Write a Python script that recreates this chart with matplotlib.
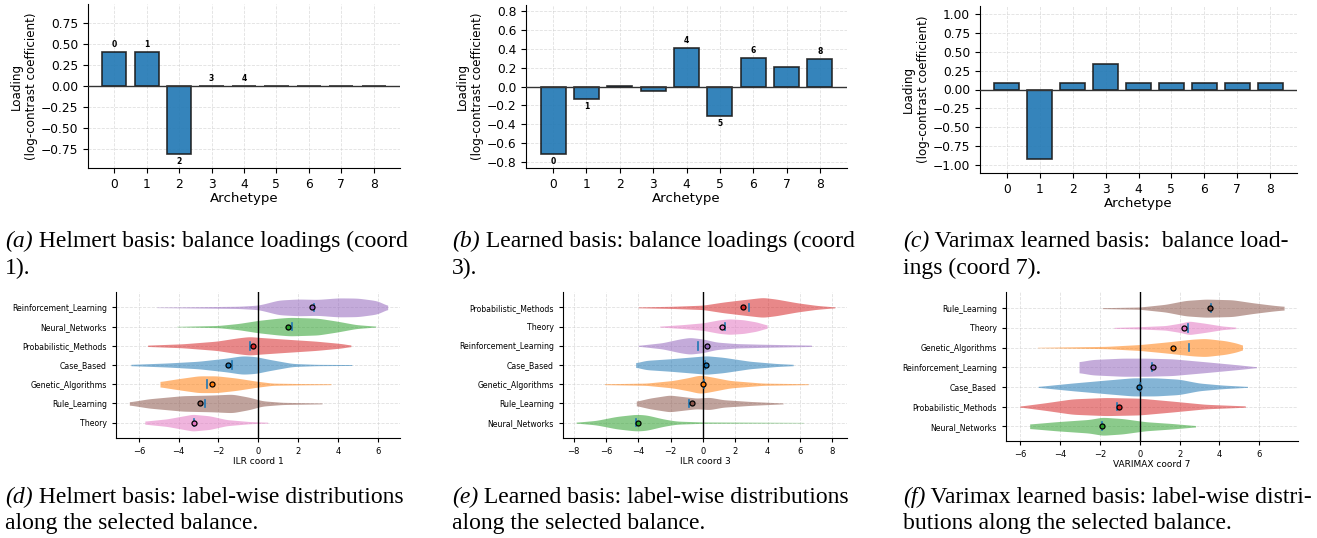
import numpy as np
import matplotlib
matplotlib.use("Agg")
import matplotlib.pyplot as plt
from matplotlib.ticker import MultipleLocator

W, H = 1317, 538

# ---- top row: balance loadings per archetype ----
archetypes = list(range(9))
load_helmert = [0.41, 0.41, -0.82, 0.004, 0.004, 0.0, 0.0, 0.0, 0.0]
load_learned = [-0.715, -0.13, 0.01, -0.045, 0.405, -0.315, 0.30, 0.21, 0.29]
load_varimax = [0.085, -0.92, 0.085, 0.335, 0.085, 0.085, 0.085, 0.085, 0.085]
labels_helmert = [0, 1, 2, 3, 4]
labels_learned = [0, 1, 4, 5, 6, 8]
labels_varimax = []

# ---- bottom row: label-wise violin profiles (x knots, half widths) ----
label_colors = {
    "Case_Based": "tab:blue", "Genetic_Algorithms": "tab:orange",
    "Neural_Networks": "tab:green", "Probabilistic_Methods": "tab:red",
    "Reinforcement_Learning": "tab:purple", "Rule_Learning": "tab:brown",
    "Theory": "tab:pink",
}

order_d = ["Reinforcement_Learning", "Neural_Networks", "Probabilistic_Methods",
           "Case_Based", "Genetic_Algorithms", "Rule_Learning", "Theory"]
prof_d = {
    "Reinforcement_Learning": ([-5.1, -3, -1, 0, 0.5, 1, 2, 3, 4, 5, 6, 6.5],
                               [0.01, 0.03, 0.05, 0.10, 0.21, 0.33, 0.38, 0.36, 0.43, 0.42, 0.30, 0.07]),
    "Neural_Networks": ([-4.1, -2, -1, 0, 1, 1.6, 3, 4, 4.9, 5.9],
                        [0.01, 0.05, 0.14, 0.28, 0.38, 0.42, 0.38, 0.24, 0.09, 0.02]),
    "Probabilistic_Methods": ([-5.56, -3.8, -2.1, -1.1, -0.45, 0.05, 1.2, 2.9, 4.2, 4.65],
                              [0.03, 0.09, 0.21, 0.35, 0.42, 0.38, 0.31, 0.21, 0.10, 0.03]),
    "Case_Based": ([-6.4, -4.6, -3, -1.6, -0.8, -0.1, 0.4, 1.7, 2.9, 4.7],
                   [0.03, 0.09, 0.17, 0.31, 0.42, 0.38, 0.28, 0.07, 0.03, 0.02]),
    "Genetic_Algorithms": ([-4.94, -4.1, -3, -2.1, -1.1, -0.1, 0.7, 2.1, 3.65],
                           [0.12, 0.24, 0.38, 0.38, 0.28, 0.14, 0.05, 0.03, 0.02]),
    "Rule_Learning": ([-6.48, -5.5, -3.8, -2.3, -1.3, -0.45, 0.2, 1.2, 3.2],
                      [0.07, 0.21, 0.35, 0.38, 0.42, 0.28, 0.12, 0.05, 0.02]),
    "Theory": ([-5.7, -4.6, -3.3, -2.46, -1.6, -0.45, 0.47],
               [0.07, 0.17, 0.38, 0.31, 0.14, 0.05, 0.02]),
}
mean_d = [2.68, 1.51, -0.27, -1.52, -2.33, -2.91, -3.25]
median_d = [2.78, 1.68, -0.42, -1.31, -2.56, -2.70, -3.22]

order_e = ["Probabilistic_Methods", "Theory", "Reinforcement_Learning",
           "Case_Based", "Genetic_Algorithms", "Rule_Learning", "Neural_Networks"]
prof_e = {
    "Probabilistic_Methods": ([-4.0, -1.85, 0, 1.24, 2.5, 3.7, 4.5, 5.8, 7, 8.15],
                              [0.02, 0.05, 0.10, 0.24, 0.35, 0.45, 0.38, 0.21, 0.09, 0.02]),
    "Theory": ([-2.68, -1.24, 0, 1.03, 1.65, 2.5, 3.3, 3.96],
               [0.02, 0.09, 0.17, 0.31, 0.35, 0.31, 0.21, 0.07]),
    "Reinforcement_Learning": ([-4.0, -2.5, -1.44, -0.82, 0, 0.82, 2.06, 3.7, 6.7],
                               [0.02, 0.14, 0.31, 0.38, 0.31, 0.17, 0.10, 0.07, 0.03]),
    "Case_Based": ([-4.16, -3.5, -2.06, -0.4, 0.2, 1.24, 2.9, 4.5, 5.57],
                   [0.10, 0.21, 0.28, 0.38, 0.42, 0.35, 0.17, 0.07, 0.03]),
    "Genetic_Algorithms": ([-6.08, -3.5, -1.85, -0.82, -0.2, 0.4, 1.65, 3.7, 6.5],
                           [0.02, 0.05, 0.17, 0.31, 0.42, 0.35, 0.17, 0.05, 0.02]),
    "Rule_Learning": ([-4.12, -3.3, -2.06, -1.24, -0.4, 0.4, 1.24, 2.9, 4.95],
                      [0.10, 0.24, 0.38, 0.31, 0.24, 0.28, 0.17, 0.09, 0.02]),
    "Neural_Networks": ([-7.84, -6.6, -5.36, -4.12, -3.5, -2.47, -1.65, 0, 6.2],
                        [0.02, 0.10, 0.28, 0.38, 0.35, 0.17, 0.07, 0.03, 0.01]),
}
mean_e = [2.45, 1.18, 0.27, 0.20, 0.02, -0.70, -4.02]
median_e = [2.85, 1.38, -0.33, 0.10, 0.06, -0.85, -4.16]

order_f = ["Rule_Learning", "Theory", "Genetic_Algorithms", "Reinforcement_Learning",
           "Case_Based", "Probabilistic_Methods", "Neural_Networks"]
prof_f = {
    "Rule_Learning": ([-1.88, 0, 1.3, 2.3, 3.3, 4.66, 5.66, 6.67, 7.25],
                      [0.02, 0.05, 0.17, 0.34, 0.40, 0.37, 0.24, 0.13, 0.08]),
    "Theory": ([-1.29, 0, 1.3, 2.0, 2.48, 3.3, 4.15, 4.82],
               [0.02, 0.05, 0.10, 0.20, 0.30, 0.20, 0.08, 0.03]),
    "Genetic_Algorithms": ([-5.14, -1.7, 0, 1.3, 2.65, 3.3, 4.32, 5.0, 5.16],
                           [0.01, 0.05, 0.13, 0.24, 0.37, 0.40, 0.30, 0.17, 0.08]),
    "Reinforcement_Learning": ([-3.05, -2.38, -0.87, 0.3, 1.64, 3.3, 5.0, 5.86],
                               [0.24, 0.34, 0.40, 0.40, 0.37, 0.24, 0.10, 0.02]),
    "Case_Based": ([-5.1, -3.38, -1.7, -0.37, 0.8, 1.98, 2.98, 4.15, 5.41],
                   [0.02, 0.17, 0.30, 0.40, 0.40, 0.34, 0.17, 0.08, 0.02]),
    "Probabilistic_Methods": ([-6.03, -4.72, -3.38, -1.7, 0, 1.64, 3.3, 5.3],
                              [0.02, 0.17, 0.34, 0.40, 0.37, 0.24, 0.10, 0.03]),
    "Neural_Networks": ([-5.53, -4.2, -2.55, -1.88, -0.87, 0.3, 1.64, 2.8],
                        [0.10, 0.20, 0.30, 0.40, 0.34, 0.20, 0.12, 0.03]),
}
mean_f = [3.52, 2.23, 1.67, 0.67, -0.03, -1.06, -1.88]
median_f = [3.60, 2.43, 2.48, 0.64, 0.03, -1.14, -1.88]

captions = [
    ("(a)", " Helmert basis: balance loadings (coord", "1)."),
    ("(b)", " Learned basis: balance loadings (coord", "3)."),
    ("(c)", " Varimax learned basis:  balance load-", "ings (coord 7)."),
    ("(d)", " Helmert basis: label-wise distributions", "along the selected balance."),
    ("(e)", " Learned basis: label-wise distributions", "along the selected balance."),
    ("(f)", " Varimax learned basis: label-wise distri-", "butions along the selected balance."),
]


def px_axes(l, t, r, b):
    return fig.add_axes([l / W, 1 - b / H, (r - l) / W, (b - t) / H])


def smooth_profile(xs, ws, n=400):
    # render-only smoothing of the knots
    gx = np.linspace(xs[0], xs[-1], n)
    gw = np.interp(gx, xs, ws)
    k = np.exp(-0.5 * (np.arange(-18, 19) / 6.0) ** 2)
    k /= k.sum()
    padded = np.concatenate([np.full(18, gw[0]), gw, np.full(18, gw[-1])])
    return gx, np.convolve(padded, k, mode="valid")


def bar_panel(ax, vals, lab_idx, step):
    ax.bar(archetypes, vals, width=0.75, color="tab:blue", alpha=0.9,
           edgecolor="#1a1a1a", linewidth=1.2, zorder=3)
    ax.axhline(0, color="#333333", lw=1.0, zorder=4)
    m = max(abs(v) for v in vals) * 1.2
    ax.set_ylim(-m, m)
    ax.yaxis.set_major_locator(MultipleLocator(step))
    ax.set_xticks(archetypes)
    for i in lab_idx:
        v = vals[i]
        ax.annotate(str(i), (i, v), xytext=(0, 2 if v >= 0 else -2),
                    textcoords="offset points", ha="center",
                    va="bottom" if v >= 0 else "top", fontsize=5.5, fontweight="bold")
    ax.grid(True, ls="--", lw=0.6, color="#cccccc", alpha=0.6, zorder=0)
    ax.set_axisbelow(True)
    for s in ["top", "right"]:
        ax.spines[s].set_visible(False)
    ax.tick_params(labelsize=8.8)
    ax.set_xlabel("Archetype", fontsize=9.6, labelpad=1)
    ax.set_ylabel("Loading\n(log-contrast coefficient)", fontsize=8.6, labelpad=2)


def violin_panel(ax, order, prof, means, medians, xlabel, xlim, ylim):
    for j, name in enumerate(order):
        c = label_colors[name]
        gx, gw = smooth_profile(*prof[name])
        gw = gw * 1.15
        ax.fill_between(gx, j - gw, j + gw, color=c, alpha=0.55, lw=0, zorder=2)
        ax.plot([medians[j], medians[j]], [j - 0.2, j + 0.2], color="tab:blue", lw=1.2, zorder=4)
        ax.plot(means[j], j, "o", ms=3.6, mfc=c, mec="black", mew=0.9, zorder=5)
    ax.axvline(0, color="black", lw=1.0, zorder=3)
    ax.set_yticks(range(len(order)))
    ax.set_yticklabels(order)
    ax.set_xlim(*xlim)
    ax.set_ylim(*ylim)
    ax.xaxis.set_major_locator(MultipleLocator(2))
    ax.grid(True, ls="--", lw=0.6, color="#cccccc", alpha=0.6, zorder=0)
    ax.set_axisbelow(True)
    for s in ["top", "right"]:
        ax.spines[s].set_visible(False)
    ax.tick_params(axis="y", labelsize=5.6, length=3)
    ax.tick_params(axis="x", labelsize=6, length=3)
    ax.set_xlabel(xlabel, fontsize=6.5, labelpad=1)


fig = plt.figure(figsize=(W / 100, H / 100), dpi=100)

ax_a = px_axes(88, 4, 400, 168)
ax_b = px_axes(526, 5, 847, 168)
ax_c = px_axes(980, 6, 1297, 173)
bar_panel(ax_a, load_helmert, labels_helmert, 0.25)
bar_panel(ax_b, load_learned, labels_learned, 0.2)
bar_panel(ax_c, load_varimax, labels_varimax, 0.25)

ax_d = px_axes(116, 292, 400, 438)
ax_e = px_axes(563, 292, 847, 438)
ax_f = px_axes(1006, 292, 1298, 441)
violin_panel(ax_d, order_d, prof_d, mean_d, median_d, "ILR coord 1", (-7.15, 7.12), (6.8, -0.8))
violin_panel(ax_e, order_e, prof_e, mean_e, median_e, "ILR coord 3", (-8.65, 8.9), (6.8, -0.8))
violin_panel(ax_f, order_f, prof_f, mean_f, median_f, "VARIMAX coord 7", (-6.72, 7.95), (6.75, -0.82))

# captions
bg = fig.add_axes([0, 0, 1, 1], zorder=-1)
bg.axis("off")
bg.set_xlim(0, W)
bg.set_ylim(H, 0)
cap_x = [5, 452, 903]
cap_y = [(247, 274), (503, 529)]
serif = "Liberation Serif"
for k, (tag, line1, line2) in enumerate(captions):
    x = cap_x[k % 3]
    y1, y2 = cap_y[k // 3]
    t = bg.text(x, y1, tag, family=serif, style="italic", fontsize=17, va="baseline")
    bg.annotate(line1, xy=(1, y1), xycoords=(t, "data"), family=serif,
                fontsize=17, va="baseline", ha="left")
    bg.text(x, y2, line2, family=serif, fontsize=17, va="baseline")

fig.savefig("out.png", dpi=100)
